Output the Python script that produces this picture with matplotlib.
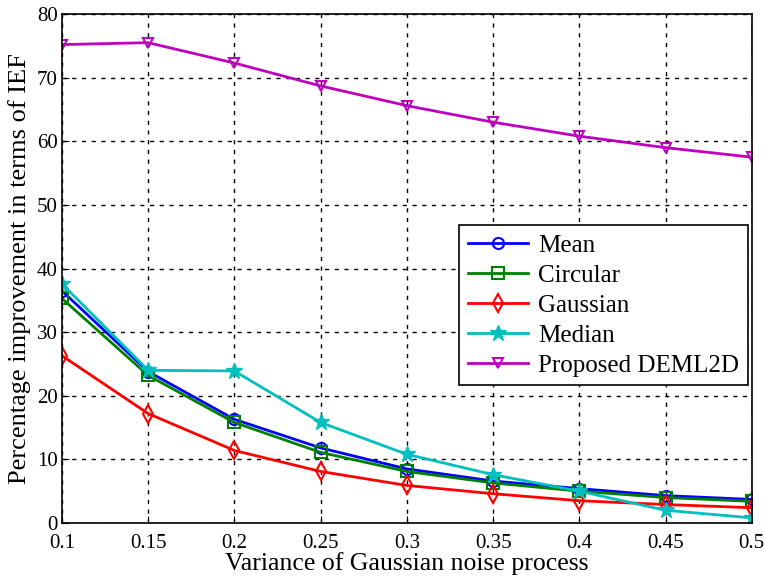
import numpy as np
import matplotlib.pyplot as plt

plt.rcParams['font.family'] = ['Liberation Serif', 'DejaVu Serif']

variance = [0.1, 0.15, 0.2, 0.25, 0.3, 0.35, 0.4, 0.45, 0.5]
mean_vals = [36.5, 23.8, 16.3, 11.8, 8.5, 6.6, 5.4, 4.3, 3.7]
circular_vals = [35.3, 23.2, 15.8, 11.1, 8.1, 6.3, 5.0, 4.0, 3.4]
gaussian_vals = [26.3, 17.2, 11.4, 8.1, 5.9, 4.6, 3.5, 2.9, 2.4]
median_vals = [37.6, 24.0, 23.9, 15.8, 10.8, 7.6, 5.0, 2.0, 0.8]
proposed_vals = [75.2, 75.5, 72.3, 68.7, 65.6, 63.0, 60.8, 59.0, 57.5]

fig = plt.figure(figsize=(7.64, 5.85), dpi=100)
ax = fig.add_axes([0.081, 0.106, 0.903, 0.87])

lw = 2
ax.plot(variance, mean_vals, color='#0000ff', marker='o', mfc='none', ms=8, mew=1.5, lw=lw, label='Mean')
ax.plot(variance, circular_vals, color='#008000', marker='s', mfc='none', ms=8, mew=1.5, lw=lw, label='Circular')
ax.plot(variance, gaussian_vals, color='#ff0000', marker='d', mfc='none', ms=9, mew=1.5, lw=lw, label='Gaussian')
ax.plot(variance, median_vals, color='#00bfbf', marker='*', ms=12, mew=1.0, lw=lw, label='Median')
ax.plot(variance, proposed_vals, color='#bf00bf', marker='v', mfc='none', ms=7, mew=1.5, lw=lw, label='Proposed DEML2D')

ax.set_xlim(0.1, 0.5)
ax.set_ylim(0, 80)
ax.set_xticks(variance)
ax.set_xticklabels(['0.1', '0.15', '0.2', '0.25', '0.3', '0.35', '0.4', '0.45', '0.5'])
ax.set_yticks(np.arange(0, 81, 10))
ax.tick_params(labelsize=15, direction='in', length=5)
ax.tick_params(axis='x', pad=8)
ax.tick_params(axis='y', pad=3)
ax.grid(True, color='black', linestyle=(0, (3, 4)), linewidth=1)
for s in ax.spines.values():
    s.set_linewidth(1.2)

ax.set_xlabel('Variance of Gaussian noise process', fontsize=18.5, labelpad=-1)
ax.set_ylabel('Percentage improvement in terms of IEF', fontsize=19, labelpad=4)

leg = ax.legend(loc='upper right', bbox_to_anchor=(0.994, 0.585), fontsize=18, fancybox=False,
                edgecolor='black', framealpha=1, borderaxespad=0, handlelength=2.4,
                handletextpad=0.4, labelspacing=0.3, borderpad=0.35)
leg.get_frame().set_linewidth(1.2)

fig.savefig('out.png', dpi=100)
